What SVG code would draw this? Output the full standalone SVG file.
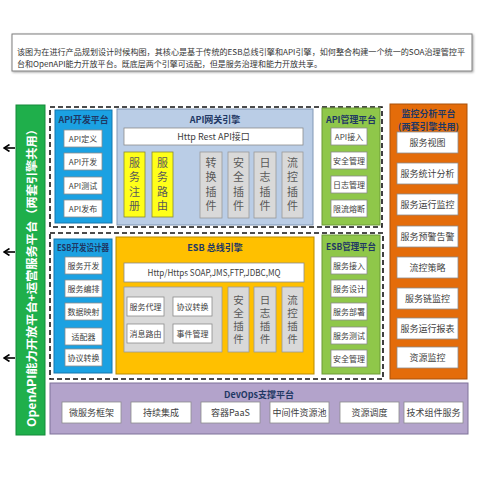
<svg xmlns="http://www.w3.org/2000/svg" width="480" height="480" viewBox="0 0 480 480">
<defs>
<marker id="ah" markerWidth="8" markerHeight="8" refX="6.5" refY="4" orient="auto" markerUnits="userSpaceOnUse">
<path d="M1,0.5 L6.5,4 L1,7.5" fill="none" stroke="#000" stroke-width="1.6"/>
</marker>
<filter id="sh" x="-5%" y="-5%" width="115%" height="115%">
<feDropShadow dx="1" dy="1" stdDeviation="0.8" flood-color="#000" flood-opacity="0.35"/>
</filter>
</defs>
<style>
text{font-family:"Noto Sans CJK SC","Noto Sans",sans-serif;}
.t{font-size:9px;fill:#404040;text-anchor:middle;dominant-baseline:central;}
.s{font-size:8px;fill:#404040;text-anchor:middle;dominant-baseline:central;}
.h{font-size:9px;font-weight:bold;fill:#1F3864;text-anchor:middle;dominant-baseline:central;}
.v{font-size:11px;fill:#595959;text-anchor:middle;writing-mode:vertical-rl;letter-spacing:3.3px;}
.ve{font-size:10.5px;fill:#595959;text-anchor:middle;writing-mode:vertical-rl;letter-spacing:2.5px;}
.w{fill:#fff;stroke:#8c8c8c;stroke-width:0.8;}
.g{fill:#D9D9D9;stroke:#9a9a9a;stroke-width:0.8;}
.y{fill:#FFFF1A;stroke:#8a8a30;stroke-width:0.8;}
.blue{fill:#1BA1E2;stroke:#1577AE;stroke-width:1;}
.grn{fill:#8FC74A;stroke:#6C9A36;stroke-width:1;}
.dash{fill:none;stroke:#111;stroke-width:1.6;stroke-dasharray:5,3;}
.arr{stroke:#000;stroke-width:1.6;marker-end:url(#ah);}
</style>
<rect width="480" height="480" fill="#fff"/>

<g id="intro">
<rect x="12" y="34" width="460" height="37" fill="#fff" stroke="#7f7f7f" stroke-width="1" filter="url(#sh)"/>
<text x="17" y="51" font-size="8" fill="#333" textLength="448" lengthAdjust="spacingAndGlyphs" dominant-baseline="central">该图为在进行产品规划设计时候构图，其核心是基于传统的ESB总线引擎和API引擎，如何整合构建一个统一的SOA治理管控平</text>
<text x="17" y="63" font-size="8" fill="#333" textLength="305" lengthAdjust="spacingAndGlyphs" dominant-baseline="central">台和OpenAPI能力开放平台。既底层两个引擎可适配，但是服务治理和能力开放共享。</text>
</g>

<g id="openapi-bar">
<rect x="16" y="105" width="29" height="330" fill="#1FAF4B" stroke="#158a3a" stroke-width="1"/>
<text transform="translate(31,275) rotate(-90)" font-size="11.5" font-weight="bold" fill="#fff" text-anchor="middle" dominant-baseline="central" textLength="304" lengthAdjust="spacingAndGlyphs">OpenAPI能力开放平台+运营服务平台（两套引擎共用）</text>
</g>

<g id="connectors">
<line class="arr" x1="15" y1="148" x2="4" y2="148"/>
<line class="arr" x1="15" y1="252" x2="4" y2="252"/>
<line class="arr" x1="15" y1="358" x2="4" y2="358"/>
</g>

<g id="api-zone">
<rect class="dash" x="50" y="107" width="332" height="120"/>
</g>
<g id="esb-zone">
<rect class="dash" x="50" y="233" width="333" height="146"/>
</g>

<g id="api-dev">
<rect class="blue" x="55" y="110" width="57" height="113"/>
<text class="h" x="83.5" y="119" textLength="50" lengthAdjust="spacingAndGlyphs">API开发平台</text>
<rect class="w" x="64" y="130" width="38" height="17"/><text class="s" x="83" y="138.5">API定义</text>
<rect class="w" x="64" y="153" width="38" height="17"/><text class="s" x="83" y="161.5">API开发</text>
<rect class="w" x="64" y="177" width="38" height="17"/><text class="s" x="83" y="185.5">API测试</text>
<rect class="w" x="64" y="200" width="38" height="17"/><text class="s" x="83" y="208.5">API发布</text>
</g>

<g id="api-gateway">
<rect x="117" y="109" width="196" height="116" fill="#BACDE6" stroke="#8197B5" stroke-width="1"/>
<text class="h" x="215" y="119" font-size="10">API网关引擎</text>
<rect class="w" x="124" y="128" width="179" height="17"/><text class="t" x="213.5" y="136.5" font-size="9.5">Http Rest API接口</text>
<rect class="y" x="124" y="152" width="21" height="65"/>
<text class="v" x="134.5" y="186">服务注册</text>
<rect class="y" x="152" y="152" width="21" height="65"/>
<text class="v" x="162.5" y="186">服务路由</text>
<rect class="g" x="200" y="152" width="22" height="66"/>
<text class="v" x="211" y="186">转换插件</text>
<rect class="g" x="228" y="152" width="21" height="66"/>
<text class="v" x="238.5" y="186">安全插件</text>
<rect class="g" x="254" y="152" width="22" height="66"/>
<text class="v" x="265" y="186">日志插件</text>
<rect class="g" x="282" y="152" width="21" height="66"/>
<text class="v" x="292.5" y="186">流控插件</text>
</g>

<g id="api-mgmt">
<rect class="grn" x="322" y="108" width="58" height="117"/>
<text class="h" x="351" y="119" textLength="50" lengthAdjust="spacingAndGlyphs">API管理平台</text>
<rect class="w" x="331" y="128" width="36" height="17"/><text class="s" x="349" y="136.5">API接入</text>
<rect class="w" x="331" y="152" width="36" height="17"/><text class="s" x="349" y="160.5">安全管理</text>
<rect class="w" x="331" y="176" width="36" height="17"/><text class="s" x="349" y="184.5">日志管理</text>
<rect class="w" x="331" y="200" width="36" height="17"/><text class="s" x="349" y="208.5">限流熔断</text>
</g>

<g id="monitor">
<rect x="390" y="104" width="77" height="275" fill="#E46C0A" stroke="#A8500A" stroke-width="1"/>
<text class="h" x="428.5" y="113" font-size="8.5" fill="#3a1a05">监控分析平台</text>
<text class="h" x="428.5" y="126" font-size="8.5" fill="#3a1a05">(两套引擎共用)</text>
<rect class="w" x="397" y="132" width="61" height="21"/><text class="t" x="427.5" y="142.5">服务视图</text>
<rect class="w" x="397" y="163" width="61" height="21"/><text class="t" x="427.5" y="173.5">服务统计分析</text>
<rect class="w" x="397" y="194" width="61" height="21"/><text class="t" x="427.5" y="204.5">服务运行监控</text>
<rect class="w" x="397" y="226" width="61" height="21"/><text class="t" x="427.5" y="236.5">服务预警告警</text>
<rect class="w" x="397" y="257" width="61" height="21"/><text class="t" x="427.5" y="267.5">流控策略</text>
<rect class="w" x="397" y="288" width="61" height="21"/><text class="t" x="427.5" y="298.5">服务链监控</text>
<rect class="w" x="397" y="318" width="61" height="21"/><text class="t" x="427.5" y="328.5">服务运行报表</text>
<rect class="w" x="397" y="347" width="61" height="21"/><text class="t" x="427.5" y="357.5">资源监控</text>
</g>

<g id="esb-dev">
<rect class="blue" x="54" y="239" width="58" height="134"/>
<text class="h" x="83" y="247" textLength="52" lengthAdjust="spacingAndGlyphs">ESB开发设计器</text>
<rect class="w" x="65" y="257" width="37" height="17"/><text class="s" x="83.5" y="265.5">服务开发</text>
<rect class="w" x="65" y="280" width="37" height="17"/><text class="s" x="83.5" y="288.5">服务编排</text>
<rect class="w" x="65" y="303" width="37" height="17"/><text class="s" x="83.5" y="311.5">数据映射</text>
<rect class="w" x="65" y="328" width="37" height="17"/><text class="s" x="83.5" y="336.5">适配器</text>
<rect class="w" x="65" y="349" width="37" height="17"/><text class="s" x="83.5" y="357.5">协议转换</text>
</g>

<g id="esb-engine">
<rect x="116" y="237" width="198" height="137" fill="#FFC000" stroke="#B88A00" stroke-width="1"/>
<text class="h" x="215" y="247" font-size="10">ESB 总线引擎</text>
<rect class="w" x="124" y="263" width="180" height="19"/><text class="t" x="214" y="272.5" font-size="9.5" textLength="133" lengthAdjust="spacingAndGlyphs">Http/Https SOAP,JMS,FTP,JDBC,MQ</text>
<rect class="g" x="124" y="287" width="98" height="65"/>
<rect class="w" x="127" y="297" width="37" height="19"/><text class="s" x="145.5" y="306.5">服务代理</text>
<rect class="w" x="173" y="297" width="39" height="19"/><text class="s" x="192.5" y="306.5">协议转换</text>
<rect class="w" x="127" y="324" width="37" height="19"/><text class="s" x="145.5" y="333.5">消息路由</text>
<rect class="w" x="173" y="324" width="39" height="19"/><text class="s" x="192.5" y="333.5">事件管理</text>
<rect class="g" x="228" y="287" width="21" height="65"/>
<text class="ve" x="238.5" y="320.5">安全插件</text>
<rect class="g" x="254" y="287" width="22" height="65"/>
<text class="ve" x="265" y="320.5">日志插件</text>
<rect class="g" x="282" y="287" width="21" height="65"/>
<text class="ve" x="292.5" y="320.5">流控插件</text>
</g>

<g id="esb-mgmt">
<rect class="grn" x="322" y="235" width="58" height="139"/>
<text class="h" x="351" y="246" textLength="50" lengthAdjust="spacingAndGlyphs">ESB管理平台</text>
<rect class="w" x="331" y="257" width="36" height="17"/><text class="s" x="349" y="265.5">服务接入</text>
<rect class="w" x="331" y="280" width="36" height="17"/><text class="s" x="349" y="288.5">服务设计</text>
<rect class="w" x="331" y="303" width="36" height="17"/><text class="s" x="349" y="311.5">服务部署</text>
<rect class="w" x="331" y="327" width="36" height="17"/><text class="s" x="349" y="335.5">服务测试</text>
<rect class="w" x="331" y="350" width="36" height="17"/><text class="s" x="349" y="358.5">安全管理</text>
</g>

<g id="devops">
<rect x="50" y="383" width="418" height="51" fill="#B3A3CB" stroke="#7F7399" stroke-width="1"/>
<text class="h" x="259" y="394" font-size="10">DevOps支撑平台</text>
<rect class="w" x="62" y="402" width="59" height="21"/><text class="t" x="91.5" y="412.5">微服务框架</text>
<rect class="w" x="131" y="402" width="60" height="21"/><text class="t" x="161" y="412.5">持续集成</text>
<rect class="w" x="201" y="402" width="59" height="21"/><text class="t" x="230.5" y="412.5">容器PaaS</text>
<rect class="w" x="270" y="402" width="59" height="21"/><text class="t" x="299.5" y="412.5">中间件资源池</text>
<rect class="w" x="340" y="402" width="59" height="21"/><text class="t" x="369.5" y="412.5">资源调度</text>
<rect class="w" x="404" y="402" width="59" height="21"/><text class="t" x="433.5" y="412.5">技术组件服务</text>
</g>
</svg>
